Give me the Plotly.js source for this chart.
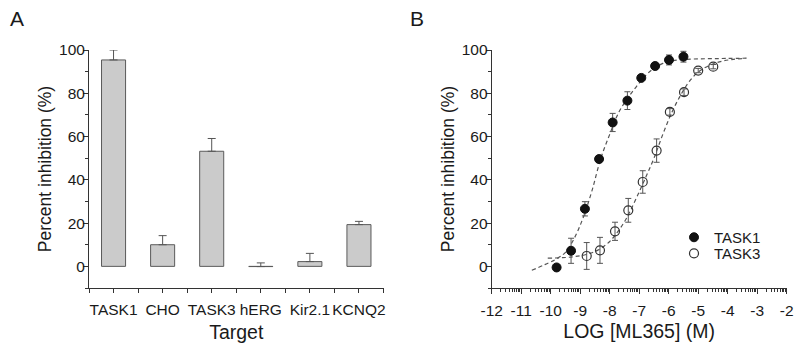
<!DOCTYPE html>
<html>
<head>
<meta charset="utf-8">
<script src="https://cdn.plot.ly/plotly-3.0.1.min.js"></script>
<style>html,body{margin:0;padding:0;background:#fff;}#chart{width:800px;height:350px;}</style>
</head>
<body>
<div id="chart"></div>
<script>
// ---- Panel A data ----
const barCats = ['TASK1', 'CHO', 'TASK3', 'hERG', 'Kir2.1', 'KCNQ2'];
const barVals = [95.4, 10.0, 53.2, -0.1, 2.2, 19.3];
const barErr  = [4.6, 4.2, 5.9, 1.7, 3.8, 1.5];

// ---- Panel B data (log concentration, % inhibition, SEM) ----
const task1X   = [-9.80, -9.31, -8.84, -8.36, -7.90, -7.40, -6.93, -6.46, -5.99, -5.50];
const task1Y   = [-0.5, 7.2, 26.6, 49.6, 66.5, 76.6, 87.1, 92.6, 95.4, 96.9];
const task1Err = [0.5, 5.8, 3.3, 1.0, 4.2, 4.1, 1.0, 1.0, 2.3, 2.5];

const task3X   = [-8.78, -8.33, -7.82, -7.37, -6.88, -6.41, -5.96, -5.48, -5.00, -4.49];
const task3Y   = [4.8, 7.4, 16.2, 25.9, 39.0, 53.5, 71.4, 80.5, 90.5, 92.3];
const task3Err = [6.2, 6.0, 4.2, 5.5, 5.2, 5.4, 1.5, 1.5, 1.0, 1.0];

// ---- Fitted curves ----
const fit1X = [-10.64, -10.2, -9.8, -9.5, -9.2, -8.9, -8.6, -8.3, -8.0, -7.7, -7.4, -7.1, -6.8, -6.5, -6.2, -5.9, -5.5, -5.0, -4.5, -4.0, -3.36];
const fit1Y = [-1.8, 0.8, 3.5, 6.5, 13, 22.5, 35, 50, 61, 71, 77.5, 83, 88, 91.5, 93.8, 95, 95.6, 95.9, 96, 96.1, 96.2];
const fit3X = [-10.1, -9.6, -9.2, -8.8, -8.4, -8.0, -7.7, -7.4, -7.1, -6.8, -6.5, -6.2, -5.9, -5.6, -5.3, -5.0, -4.6, -4.2, -3.8, -3.4];
const fit3Y = [3.8, 4.0, 4.5, 5.5, 7.5, 11.5, 16.5, 23, 31.5, 40.5, 50, 61, 71, 79, 85.5, 89.8, 93, 94.8, 95.7, 96.1];

// ---- Tick labels and texts ----
const yTickVals = [0, 20, 40, 60, 80, 100];
const xTickValsB = [-12, -11, -10, -9, -8, -7, -6, -5, -4, -3, -2];
const xTickTextB = ['-12', '-11', '-10', '-9', '-8', '-7', '-6', '-5', '-4', '-3', '-2'];
const panelLabels = ['A', 'B'];
const yTitle = 'Percent inhibition (%)';
const xTitleA = 'Target';
const xTitleB = 'LOG [ML365] (M)';
const legendNames = ['TASK1', 'TASK3'];

const FONT = '"Liberation Sans", Arial, Helvetica, sans-serif';
const TXT = '#1a1a1a';
const AX = '#333333';
const ERR = '#555555';

// log-style minor ticks for the concentration axis
const logMinor = [];
for (let d = -12; d < -2; d++) {
  for (let k = 2; k <= 9; k++) logMinor.push(d + Math.log10(k));
}

const traces = [
  {
    type: 'bar', x: barCats.map((_, i) => i), y: barVals,
    width: 0.49,
    marker: { color: '#cbcbcb', line: { color: '#5a5a5a', width: 1 } },
    error_y: { type: 'data', array: barErr, arrayminus: barCats.map(() => 0), symmetric: false, color: ERR, thickness: 1, width: 4 },
    xaxis: 'x', yaxis: 'y', showlegend: false, hoverinfo: 'skip'
  },
  {
    type: 'scatter', mode: 'lines', x: fit1X, y: fit1Y,
    line: { color: '#555555', width: 1.2, dash: '4px,3px', shape: 'spline' },
    xaxis: 'x2', yaxis: 'y2', showlegend: false
  },
  {
    type: 'scatter', mode: 'lines', x: fit3X, y: fit3Y,
    line: { color: '#555555', width: 1.2, dash: '4px,3px', shape: 'spline' },
    xaxis: 'x2', yaxis: 'y2', showlegend: false
  },
  {
    type: 'scatter', mode: 'markers', name: legendNames[0], x: task1X, y: task1Y,
    marker: { symbol: 'circle', size: 9, color: '#111111', line: { color: '#111111', width: 1 } },
    error_y: { type: 'data', array: task1Err, color: ERR, thickness: 1, width: 3 },
    xaxis: 'x2', yaxis: 'y2', legend: 'legend'
  },
  {
    type: 'scatter', mode: 'markers', name: legendNames[1], x: task3X, y: task3Y,
    marker: { symbol: 'circle-open', size: 9, color: '#333333', line: { color: '#333333', width: 1.2 } },
    error_y: { type: 'data', array: task3Err, color: ERR, thickness: 1, width: 3 },
    xaxis: 'x2', yaxis: 'y2', legend: 'legend2'
  }
];

const yCommon = {
  range: [-10, 100], tickvals: yTickVals,
  ticks: 'outside', ticklen: 5, tickwidth: 1, tickcolor: AX,
  minor: { tickvals: [-10, 10, 30, 50, 70, 90], ticks: 'outside', ticklen: 3, tickcolor: AX },
  showline: true, linecolor: AX, linewidth: 1, showgrid: false, zeroline: false,
  tickfont: { family: FONT, size: 15.5, color: TXT },
  ticklabelstandoff: -5,
  title: { text: yTitle, font: { family: FONT, size: 17.5, color: TXT }, standoff: 2 },
  fixedrange: true
};

const legendCommon = {
  xanchor: 'left', yanchor: 'top',
  font: { family: FONT, size: 15, color: TXT },
  bgcolor: 'rgba(0,0,0,0)', itemwidth: 30
};

const layout = {
  width: 800, height: 350,
  margin: { l: 0, r: 0, t: 50, b: 62 },
  paper_bgcolor: '#ffffff', plot_bgcolor: '#ffffff',
  font: { family: FONT, color: TXT },
  showlegend: true,
  legend: Object.assign({}, legendCommon, { x: 674 / 800, y: 0.2815 }),
  legend2: Object.assign({}, legendCommon, { x: 674 / 800, y: 0.214 }),
  xaxis: {
    domain: [89 / 800, 383.5 / 800], anchor: 'y',
    range: [-0.5, 5.5], tickvals: barCats.map((_, i) => i), ticktext: barCats,
    ticks: 'outside', ticklen: 4, tickwidth: 1, tickcolor: AX,
    minor: { tick0: -0.5, dtick: 1, ticks: 'outside', ticklen: 4, tickcolor: AX },
    showline: true, linecolor: AX, linewidth: 1, showgrid: false, zeroline: false,
    tickfont: { family: FONT, size: 15.5, color: TXT },
    ticklabelstandoff: 3,
    title: { text: xTitleA, font: { family: FONT, size: 19.5, color: TXT }, standoff: 8 },
    fixedrange: true
  },
  yaxis: Object.assign({}, yCommon, { domain: [0, 1], anchor: 'x' }),
  xaxis2: {
    domain: [491.7 / 800, 786.7 / 800], anchor: 'y2',
    range: [-12, -2], tickvals: xTickValsB, ticktext: xTickTextB,
    ticks: 'outside', ticklen: 5, tickwidth: 1, tickcolor: AX,
    minor: { tickvals: logMinor, ticks: 'outside', ticklen: 3, tickcolor: AX },
    showline: true, linecolor: AX, linewidth: 1, showgrid: false, zeroline: false,
    tickfont: { family: FONT, size: 15.5, color: TXT },
    ticklabelstandoff: 3,
    title: { text: xTitleB, font: { family: FONT, size: 19.5, color: TXT }, standoff: 6 },
    fixedrange: true
  },
  yaxis2: Object.assign({}, yCommon, { domain: [0, 1], anchor: 'x2' }),
  annotations: [
    { text: panelLabels[0], xref: 'paper', yref: 'paper', x: 8 / 800, y: 1 + 45 / 238, xanchor: 'left', yanchor: 'top', showarrow: false, font: { family: FONT, size: 21, color: TXT } },
    { text: panelLabels[1], xref: 'paper', yref: 'paper', x: 408 / 800, y: 1 + 45 / 238, xanchor: 'left', yanchor: 'top', showarrow: false, font: { family: FONT, size: 21, color: TXT } }
  ]
};

Plotly.newPlot('chart', traces, layout, { displayModeBar: false, staticPlot: true });
</script>
</body>
</html>
